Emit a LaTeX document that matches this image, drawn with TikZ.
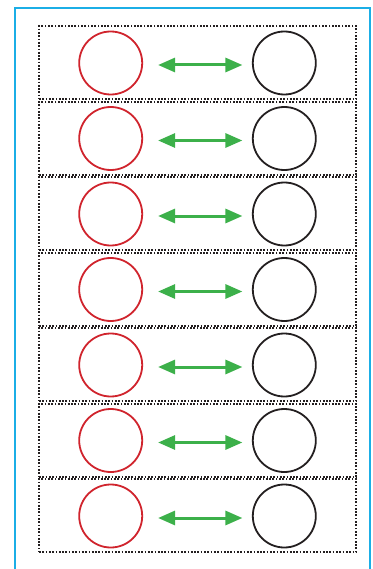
\documentclass[tikz,border=0pt]{standalone}
\usepackage{xcolor}
\usepackage{tikz}
\usetikzlibrary{arrows.meta,positioning}

\definecolor{frameblue}{RGB}{27,174,230}
\definecolor{ringred}{RGB}{208,36,45}
\definecolor{ringblack}{RGB}{35,31,32}
\definecolor{arrowgreen}{RGB}{60,176,74}

\begin{document}
\begin{tikzpicture}[
  x=1pt, y=-1pt,
  frame/.style={draw=frameblue, line width=2.2pt},
  slot/.style={draw=ringblack, line width=1.8pt, dash pattern=on 1.7pt off 1.6pt,
    minimum width=317pt, minimum height=73pt, inner sep=0pt},
  ring/.style={draw, circle, line width=1.8pt, minimum size=63pt, inner sep=0pt},
  link/.style={{Triangle[length=17pt,width=14pt]}-{Triangle[length=17pt,width=14pt]},
    draw=arrowgreen, fill=arrowgreen, line width=3pt, shorten <=15pt, shorten >=9.5pt}
]
\useasboundingbox (0,0) rectangle (372,569);
\clip (0,0) rectangle (372,569);
\draw[frame] (15,8) rectangle (370,590);
\foreach \i in {0,...,6}{
  \node[slot] (box\i) at (197.5,62.75+75.5*\i) {};
  \node[ring, draw=ringred] (lft\i) at (110.7,63+75.5*\i) {};
  \node[ring, draw=ringblack] (rgt\i) at (284.3,63+75.5*\i) {};
  \draw[link] ([yshift=-2pt]lft\i.east) -- ([yshift=-2pt]rgt\i.west);
}
\end{tikzpicture}
\end{document}
